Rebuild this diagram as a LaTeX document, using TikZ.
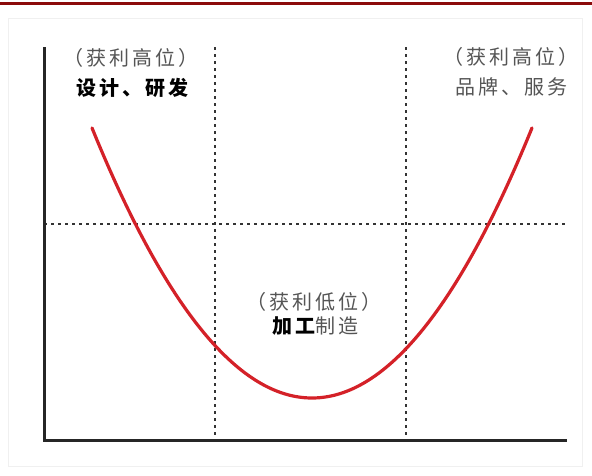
\documentclass[tikz,border=0pt]{standalone}
\usepackage{fontspec}
\newfontfamily\cjk[LetterSpace=15]{Noto Sans CJK SC}
\definecolor{topred}{HTML}{8B0A0A}
\definecolor{curvered}{HTML}{D42128}
\definecolor{txtgray}{HTML}{555555}
\begin{document}
\begin{tikzpicture}[x=1pt,y=-1pt,
  axis/.style={line width=3pt,black!85},
  guide/.style={line width=1.4pt,black!80,dash pattern=on 2.5pt off 4.5pt},
  lbl/.style={font=\cjk\fontsize{20}{22}\selectfont,inner sep=0pt,anchor=center},
  gray lbl/.style={lbl,text=txtgray},
  bold lbl/.style={lbl,text=black,font=\cjk\bfseries\fontsize{20}{22}\selectfont}]
\useasboundingbox (0,0) rectangle (592,475);
\fill[white] (0,0) rectangle (592,475);
\draw[black!6,line width=1pt] (8,18) rectangle (582,466);
\draw[topred,line width=3pt] (0,3) -- (592,3);
% coordinates
\coordinate (o) at (44,440);
\coordinate (ytop) at (44,47);
\coordinate (xend) at (567,440);
\coordinate (v1t) at (215,47);
\coordinate (v1b) at (215,440);
\coordinate (v2t) at (406,47);
\coordinate (v2b) at (406,440);
\coordinate (hl) at (44,224);
\coordinate (hr) at (566,224);
% guides
\draw[guide] (v1t) -- (v1b);
\draw[guide] (v2t) -- (v2b);
\draw[guide] (hl) -- (hr);
% axes
\draw[axis] (ytop) -- (o) -- (xend);
% curve
\draw[curvered,line width=3.2pt,line cap=round]
  plot[smooth,domain=92:532,samples=80] (\x,{398-55.8*((\x-312)/100)^2});
% labels
\node[gray lbl] (l1) at (131,58) {（获利高位）};
\node[bold lbl] (l2) at (132,88) {设计、研发};
\node[gray lbl] (r1) at (511,57) {（获利高位）};
\node[gray lbl] (r2) at (511,87) {品牌、服务};
\node[gray lbl] (m1) at (314,302) {（获利低位）};
\node[lbl] (m2) at (315,326) {{\bfseries 加工}\textcolor{txtgray}{制造}};
\end{tikzpicture}
\end{document}
